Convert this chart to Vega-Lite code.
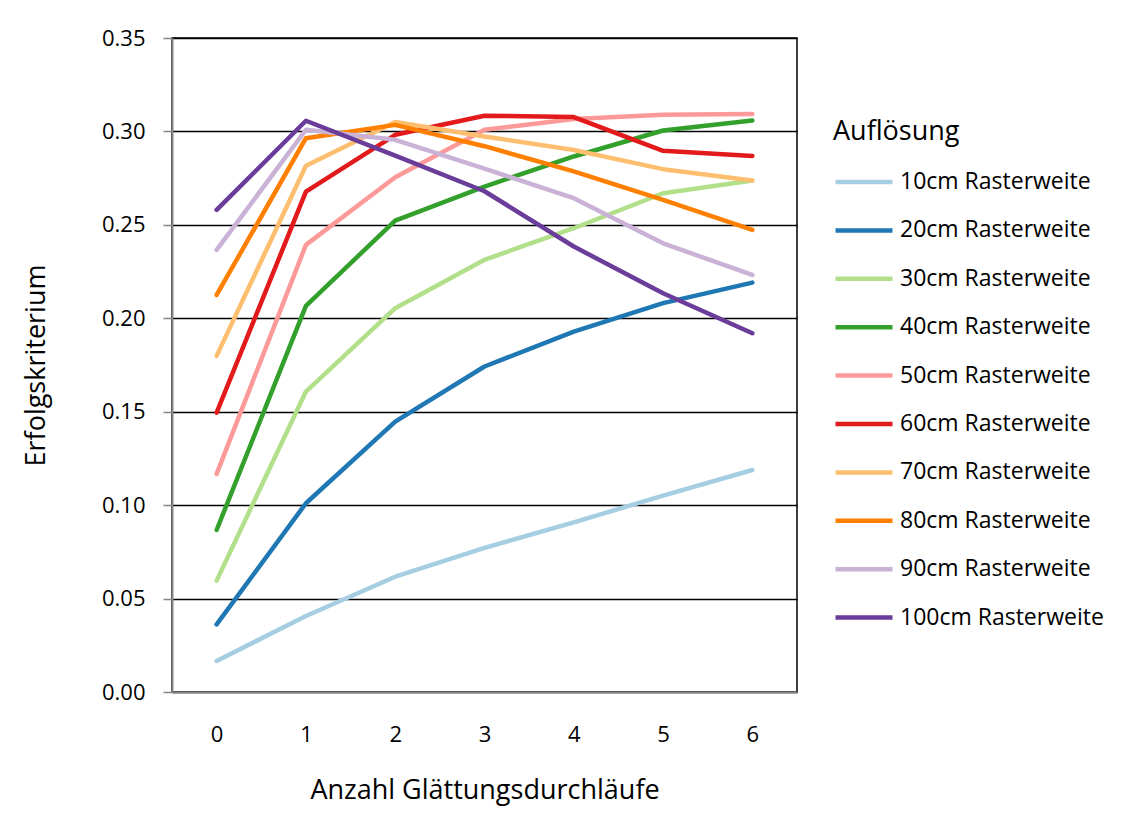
{
  "$schema": "https://vega.github.io/schema/vega-lite/v6.json",
  "width": 625,
  "height": 654,
  "autosize": {"type": "none"},
  "padding": {"left": 172, "top": 38, "right": 324, "bottom": 143},
  "background": "white",
  "config": {
    "view": {"stroke": "black", "strokeWidth": 1.5},
    "font": "Open Sans"
  },
  "data": {
    "values": [
      {"s": "10cm Rasterweite", "x": 0, "v": 0.0166}, {"s": "10cm Rasterweite", "x": 1, "v": 0.0407}, {"s": "10cm Rasterweite", "x": 2, "v": 0.0617}, {"s": "10cm Rasterweite", "x": 3, "v": 0.0771}, {"s": "10cm Rasterweite", "x": 4, "v": 0.0908}, {"s": "10cm Rasterweite", "x": 5, "v": 0.1051}, {"s": "10cm Rasterweite", "x": 6, "v": 0.1188},
      {"s": "20cm Rasterweite", "x": 0, "v": 0.0362}, {"s": "20cm Rasterweite", "x": 1, "v": 0.1010}, {"s": "20cm Rasterweite", "x": 2, "v": 0.1447}, {"s": "20cm Rasterweite", "x": 3, "v": 0.1742}, {"s": "20cm Rasterweite", "x": 4, "v": 0.1929}, {"s": "20cm Rasterweite", "x": 5, "v": 0.2081}, {"s": "20cm Rasterweite", "x": 6, "v": 0.2191},
      {"s": "30cm Rasterweite", "x": 0, "v": 0.0596}, {"s": "30cm Rasterweite", "x": 1, "v": 0.1608}, {"s": "30cm Rasterweite", "x": 2, "v": 0.2054}, {"s": "30cm Rasterweite", "x": 3, "v": 0.2313}, {"s": "30cm Rasterweite", "x": 4, "v": 0.2482}, {"s": "30cm Rasterweite", "x": 5, "v": 0.2669}, {"s": "30cm Rasterweite", "x": 6, "v": 0.2737},
      {"s": "40cm Rasterweite", "x": 0, "v": 0.0867}, {"s": "40cm Rasterweite", "x": 1, "v": 0.2066}, {"s": "40cm Rasterweite", "x": 2, "v": 0.2523}, {"s": "40cm Rasterweite", "x": 3, "v": 0.2705}, {"s": "40cm Rasterweite", "x": 4, "v": 0.2866}, {"s": "40cm Rasterweite", "x": 5, "v": 0.3005}, {"s": "40cm Rasterweite", "x": 6, "v": 0.3059},
      {"s": "50cm Rasterweite", "x": 0, "v": 0.1167}, {"s": "50cm Rasterweite", "x": 1, "v": 0.2393}, {"s": "50cm Rasterweite", "x": 2, "v": 0.2755}, {"s": "50cm Rasterweite", "x": 3, "v": 0.3009}, {"s": "50cm Rasterweite", "x": 4, "v": 0.3066}, {"s": "50cm Rasterweite", "x": 5, "v": 0.3089}, {"s": "50cm Rasterweite", "x": 6, "v": 0.3093},
      {"s": "60cm Rasterweite", "x": 0, "v": 0.1495}, {"s": "60cm Rasterweite", "x": 1, "v": 0.2678}, {"s": "60cm Rasterweite", "x": 2, "v": 0.2982}, {"s": "60cm Rasterweite", "x": 3, "v": 0.3084}, {"s": "60cm Rasterweite", "x": 4, "v": 0.3077}, {"s": "60cm Rasterweite", "x": 5, "v": 0.2896}, {"s": "60cm Rasterweite", "x": 6, "v": 0.2869},
      {"s": "70cm Rasterweite", "x": 0, "v": 0.1799}, {"s": "70cm Rasterweite", "x": 1, "v": 0.2816}, {"s": "70cm Rasterweite", "x": 2, "v": 0.3050}, {"s": "70cm Rasterweite", "x": 3, "v": 0.2973}, {"s": "70cm Rasterweite", "x": 4, "v": 0.2901}, {"s": "70cm Rasterweite", "x": 5, "v": 0.2798}, {"s": "70cm Rasterweite", "x": 6, "v": 0.2737},
      {"s": "80cm Rasterweite", "x": 0, "v": 0.2125}, {"s": "80cm Rasterweite", "x": 1, "v": 0.2964}, {"s": "80cm Rasterweite", "x": 2, "v": 0.3035}, {"s": "80cm Rasterweite", "x": 3, "v": 0.2921}, {"s": "80cm Rasterweite", "x": 4, "v": 0.2786}, {"s": "80cm Rasterweite", "x": 5, "v": 0.2634}, {"s": "80cm Rasterweite", "x": 6, "v": 0.2473},
      {"s": "90cm Rasterweite", "x": 0, "v": 0.2366}, {"s": "90cm Rasterweite", "x": 1, "v": 0.3009}, {"s": "90cm Rasterweite", "x": 2, "v": 0.2955}, {"s": "90cm Rasterweite", "x": 3, "v": 0.2801}, {"s": "90cm Rasterweite", "x": 4, "v": 0.2643}, {"s": "90cm Rasterweite", "x": 5, "v": 0.2401}, {"s": "90cm Rasterweite", "x": 6, "v": 0.2232},
      {"s": "100cm Rasterweite", "x": 0, "v": 0.2580}, {"s": "100cm Rasterweite", "x": 1, "v": 0.3057}, {"s": "100cm Rasterweite", "x": 2, "v": 0.2870}, {"s": "100cm Rasterweite", "x": 3, "v": 0.2680}, {"s": "100cm Rasterweite", "x": 4, "v": 0.2384}, {"s": "100cm Rasterweite", "x": 5, "v": 0.2134}, {"s": "100cm Rasterweite", "x": 6, "v": 0.1920}
    ]
  },
  "mark": {"type": "line", "strokeWidth": 4.5, "strokeCap": "round", "strokeJoin": "round"},
  "encoding": {
    "x": {
      "field": "x", "type": "ordinal",
      "scale": {"type": "point", "padding": 0.5},
      "axis": {
        "title": "Anzahl Glättungsdurchläufe",
        "labelAngle": 0,
        "labelFont": "Open Sans", "labelFontSize": 22, "labelColor": "black",
        "labelPadding": 32,
        "ticks": false,
        "domainColor": "#868686", "domainWidth": 2,
        "grid": false,
        "titleFont": "Open Sans", "titleFontSize": 27, "titleFontWeight": "normal", "titleColor": "black",
        "titlePadding": 32
      }
    },
    "y": {
      "field": "v", "type": "quantitative",
      "scale": {"domain": [0, 0.35], "nice": false, "zero": true},
      "axis": {
        "title": "Erfolgskriterium",
        "values": [0, 0.05, 0.1, 0.15, 0.2, 0.25, 0.3, 0.35],
        "format": ".2f",
        "labelFont": "Open Sans", "labelFontSize": 22, "labelColor": "black",
        "labelPadding": 18,
        "tickSize": 9, "tickColor": "#868686", "tickWidth": 1.5,
        "domainColor": "#868686", "domainWidth": 2,
        "grid": true, "gridColor": "black", "gridWidth": 1.5, "gridOpacity": 1,
        "titleFont": "Open Sans", "titleFontSize": 27, "titleFontWeight": "normal", "titleColor": "black",
        "titlePadding": 51
      }
    },
    "color": {
      "field": "s", "type": "nominal",
      "scale": {
        "domain": ["10cm Rasterweite", "20cm Rasterweite", "30cm Rasterweite", "40cm Rasterweite", "50cm Rasterweite", "60cm Rasterweite", "70cm Rasterweite", "80cm Rasterweite", "90cm Rasterweite", "100cm Rasterweite"],
        "range": ["#a6cee3", "#1f78b4", "#b2df8a", "#33a02c", "#fb9a99", "#e31a1c", "#fdbf6f", "#ff7f00", "#cab2d6", "#6a3d9a"]
      },
      "legend": {
        "title": "Auflösung",
        "orient": "none", "legendX": 661, "legendY": 81,
        "titleFont": "Open Sans", "titleFontSize": 27, "titleFontWeight": "normal", "titleColor": "black",
        "titlePadding": 5,
        "labelFont": "Open Sans", "labelFontSize": 23, "labelColor": "black",
        "labelOffset": 5, "labelLimit": 400,
        "symbolType": "stroke", "symbolSize": 3249, "symbolStrokeWidth": 4.5,
        "rowPadding": 5.4
      }
    }
  }
}
